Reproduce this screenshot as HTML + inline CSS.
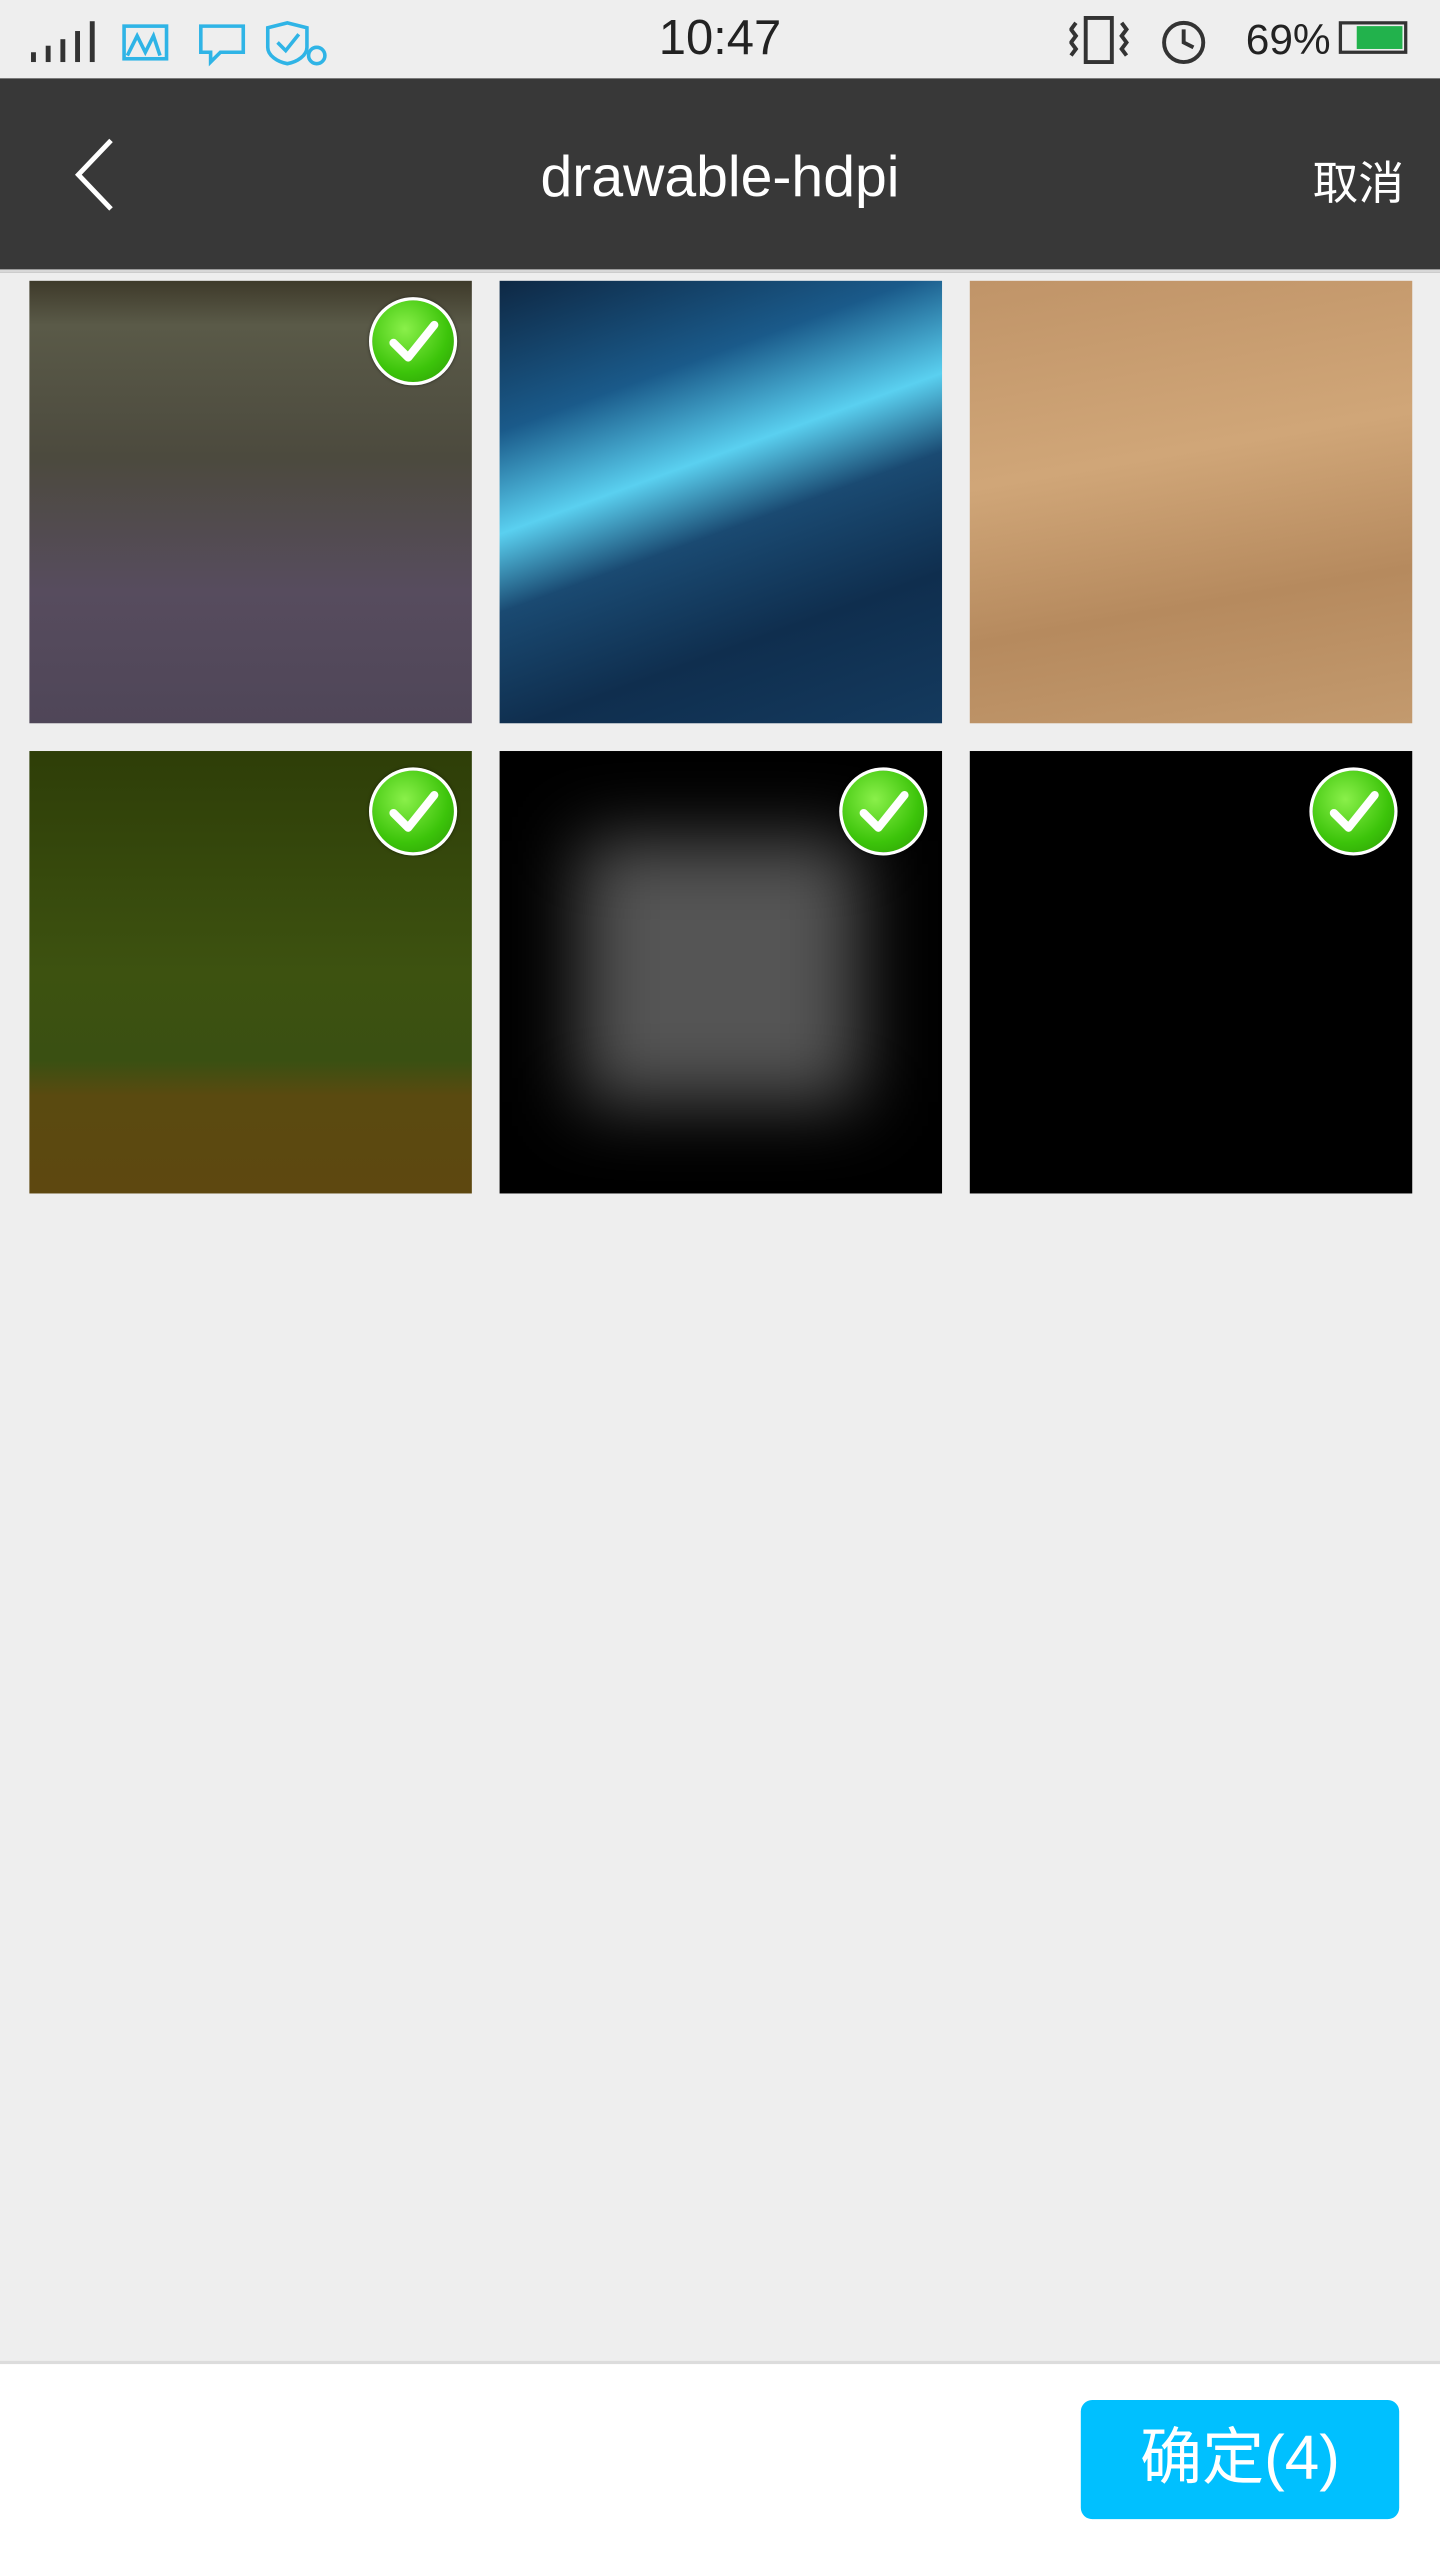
<!DOCTYPE html>
<html><head><meta charset="utf-8">
<style>
html,body{margin:0;padding:0;width:1440px;height:2560px;overflow:hidden;background:#eeeeee;font-family:"Liberation Sans","Noto Sans CJK SC",sans-serif}
#wrap{position:absolute;left:0;top:0;width:882px;height:1568px;transform:scale(1.63265);transform-origin:0 0;background:#eeeeee}
.abs{position:absolute}
.tile{position:absolute;width:271px;height:271px;overflow:hidden}
.check{position:absolute;width:50px;height:50px;border-radius:50%;background:radial-gradient(circle at 40% 35%,#8af04a,#3cc40a 60%,#2a9a05);border:2px solid #fff;box-shadow:0 0 2px rgba(0,0,0,.5)}
.check svg{position:absolute;left:0;top:0}
</style></head><body>
<div id="wrap">
 <div class="abs" style="left:0;top:0;width:882px;height:48px;background:#eeeeee">
  <svg class="abs" style="left:18px;top:10px" width="200" height="32">
   <g fill="#333"><rect x="1" y="22" width="3" height="6"/><rect x="10" y="18" width="3" height="10"/><rect x="19" y="14" width="3" height="14"/><rect x="28" y="9" width="3" height="19"/><rect x="37" y="3" width="3" height="25"/></g>
   <g fill="none" stroke="#2fb4e6" stroke-width="2.2">
    <rect x="58" y="6" width="26" height="20"/><polyline points="60,24 66,12 71,22 76,12 80,24"/>
    <path d="M105 6h26v16h-14l-6 6v-6h-6z"/>
    <path d="M158 4l12 3v12c0 5-6 9-12 10c-6-1-12-5-12-10V7z"/><polyline points="152,16 157,21 165,11"/><circle cx="176" cy="24" r="5"/>
   </g>
  </svg>
  <div class="abs" style="left:341px;top:7px;width:200px;text-align:center;font-size:30px;color:#222">10:47</div>
  <svg class="abs" style="left:655px;top:8px" width="90" height="34">
   <g fill="none" stroke="#333" stroke-width="2.4"><rect x="10" y="3" width="16" height="27"/><path d="M4 6l-3 4 3 4-3 4 3 4-3 4"/><path d="M32 6l3 4-3 4 3 4-3 4 3 4"/><circle cx="70" cy="18" r="12"/><polyline points="70,10 70,18 76,21"/></g>
  </svg>
  <div class="abs" style="left:763px;top:9px;font-size:26px;color:#222">69%</div>
  <div class="abs" style="left:820px;top:13px;width:42px;height:20px;border:2px solid #333;box-sizing:border-box"><div style="position:absolute;right:1px;top:1px;bottom:1px;width:28px;background:#22b24c"></div></div>
 </div>
 <div class="abs" style="left:0;top:48px;width:882px;height:117px;background:#383838;border-bottom:2px solid #d8d8d8">
  <svg class="abs" style="left:42px;top:36px" width="34" height="48"><polyline points="26,2 6,23 26,44" fill="none" stroke="#fff" stroke-width="3"/></svg>
  <div class="abs" style="left:241px;top:41px;width:400px;text-align:center;font-size:35px;color:#fff">drawable-hdpi</div>
  <div class="abs" style="left:804px;top:43px;font-size:28px;color:#fff">取消</div>
 </div>
 <div class="tile" style="left:18px;top:172px;background:linear-gradient(180deg,#3e3a2a 0%,#5a5a48 10%,#4c4a3e 40%,#574c5e 70%,#4f4658 100%)"><div class="check" style="left:208px;top:10px"><svg width="50" height="50"><polyline points="13,26 22,35 38,15" fill="none" stroke="#fff" stroke-width="5" stroke-linecap="round" stroke-linejoin="round"/></svg></div></div>
 <div class="tile" style="left:306px;top:172px;background:linear-gradient(160deg,#0e2844 0%,#1a5a8a 25%,#5ad0f0 42%,#1a4a72 55%,#0f2e4e 75%,#143a5e 100%)"></div>
 <div class="tile" style="left:594px;top:172px;background:linear-gradient(170deg,#c09468 0%,#d0a678 40%,#b68a5e 70%,#c39a6e 100%)"></div>
 <div class="tile" style="left:18px;top:460px;background:linear-gradient(180deg,#2e3e08 0%,#3d5210 50%,#3a5012 70%,#5a4a10 78%,#5e4810 100%)"><div class="check" style="left:208px;top:10px"><svg width="50" height="50"><polyline points="13,26 22,35 38,15" fill="none" stroke="#fff" stroke-width="5" stroke-linecap="round" stroke-linejoin="round"/></svg></div></div>
 <div class="tile" style="left:306px;top:460px;background:#000"><div style="position:absolute;left:50px;top:55px;width:170px;height:160px;background:#555;filter:blur(22px)"></div><div class="check" style="left:208px;top:10px"><svg width="50" height="50"><polyline points="13,26 22,35 38,15" fill="none" stroke="#fff" stroke-width="5" stroke-linecap="round" stroke-linejoin="round"/></svg></div></div>
 <div class="tile" style="left:594px;top:460px;background:#000"><div class="check" style="left:208px;top:10px"><svg width="50" height="50"><polyline points="13,26 22,35 38,15" fill="none" stroke="#fff" stroke-width="5" stroke-linecap="round" stroke-linejoin="round"/></svg></div></div>
 <div class="abs" style="left:0;top:1446px;width:882px;height:122px;background:#fff;border-top:2px solid #dcdcdc">
  <div class="abs" style="left:662px;top:22px;width:195px;height:73px;background:#00c0ff;border-radius:7px;color:#fff;font-size:38px;line-height:73px;text-align:center">确定(4)</div>
 </div>
</div>
</body></html>
